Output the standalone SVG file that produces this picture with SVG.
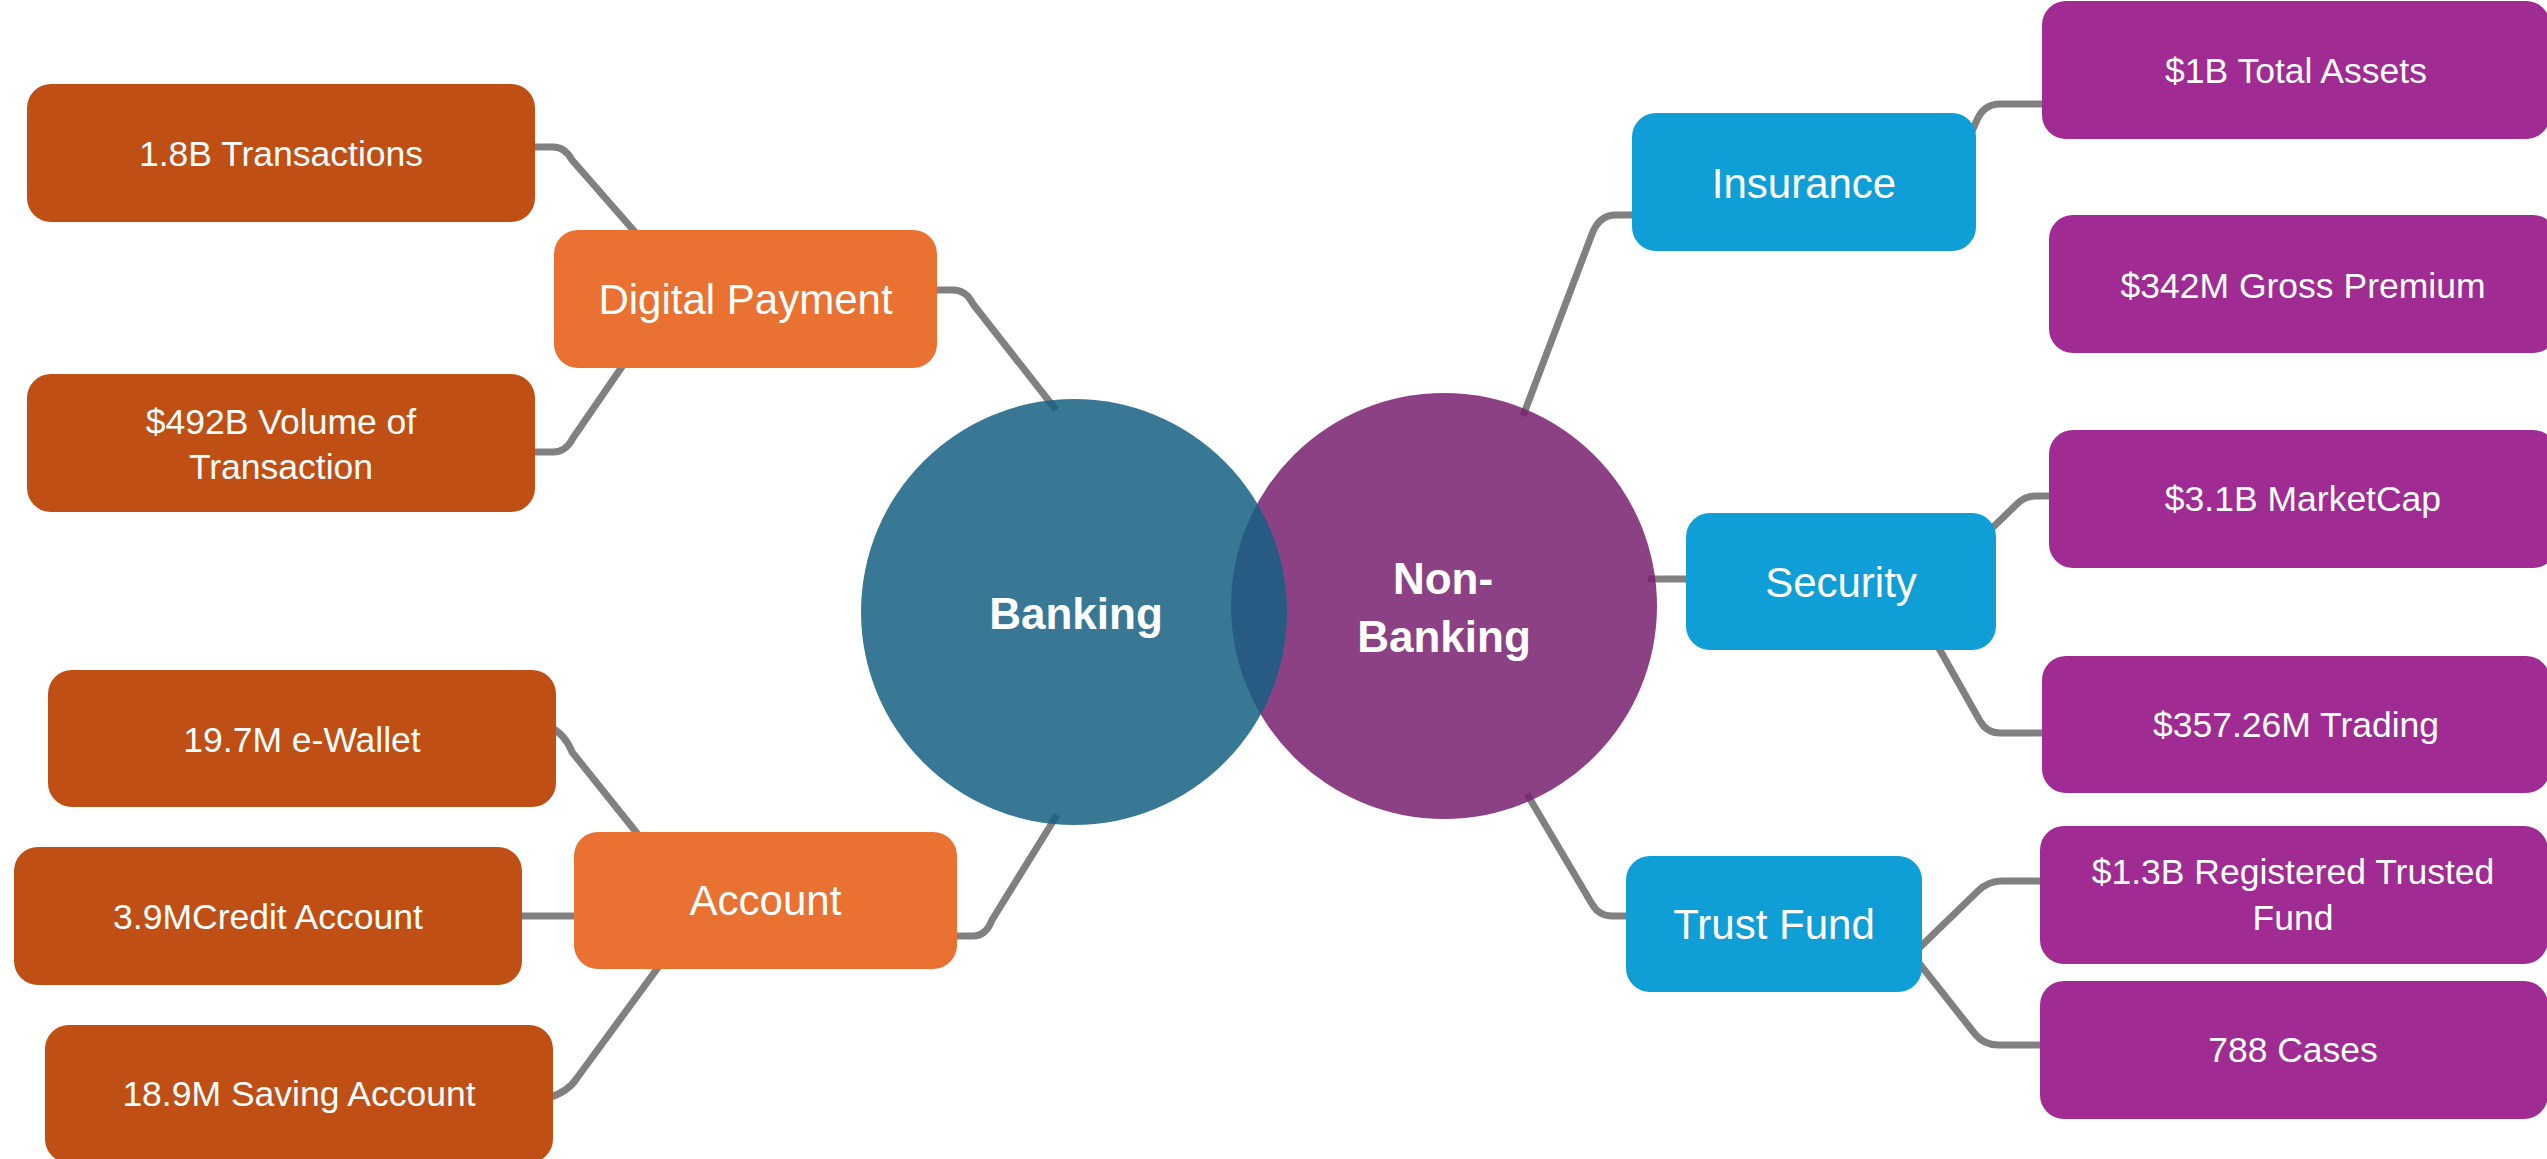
<svg xmlns="http://www.w3.org/2000/svg" width="2547" height="1159" viewBox="0 0 2547 1159">
<style>
.conn{fill:none;stroke:#808080;stroke-width:7;stroke-linejoin:round;stroke-linecap:butt}
.leafL{fill:#C04F15}
.mid{fill:#E97132}
.midB{fill:#0F9ED5}
.leafR{fill:#A02B93}
text{font-family:"Liberation Sans",Arial,sans-serif;fill:#FFFFFF;text-anchor:middle}
.t1{font-size:35.5px}
.t2{font-size:42px}
.t3{font-size:44px;font-weight:bold}
</style>
<rect width="2547" height="1159" fill="#FFFFFF"/>
<g id="connectors">
<path class="conn" d="M530 147 H553 Q565 147 572 160 L642 240"/>
<path class="conn" d="M930 290 H953 Q966 290 973 304 L1056 410"/>
<path class="conn" d="M530 452 H553 Q566 452 573 438 L628 358"/>
<path class="conn" d="M550 727 Q565 734 572 752 L644 842"/>
<path class="conn" d="M515 916 H580"/>
<path class="conn" d="M548 1098 Q568 1092 577 1078 L665 958"/>
<path class="conn" d="M950 936 H973 Q986 936 992 920 L1057 815"/>
<path class="conn" d="M1523 416 L1592 234 Q1599 215 1616 215 H1640"/>
<path class="conn" d="M1968 140 L1977 120 Q1984 104 2000 104 H2048"/>
<path class="conn" d="M1648 579 H1692"/>
<path class="conn" d="M1988 532 L2017 504 Q2025 496 2036 496 H2055"/>
<path class="conn" d="M1932 636 L1980 721 Q1987 733 2000 733 H2048"/>
<path class="conn" d="M1527 794 L1592 904 Q1599 916 1612 916 H1632"/>
<path class="conn" d="M1915 952 L1978 891 Q1988 881 2002 881 H2046"/>
<path class="conn" d="M1915 958 L1975 1034 Q1984 1045 1998 1045 H2046"/>
</g>
<g id="non-banking">
<circle cx="1444" cy="606" r="213" fill="#78206E" fill-opacity="0.85"/>
<text class="t3" x="1443" y="594">Non-</text>
<text class="t3" x="1444" y="652">Banking</text>
</g>
<g id="banking">
<circle cx="1074" cy="612" r="213" fill="#156082" fill-opacity="0.85"/>
<text class="t3" x="1076" y="629">Banking</text>
</g>
<g id="digital-payment">
<rect class="mid" x="554" y="230" width="383" height="138" rx="24"/>
<text class="t2" x="745.5" y="314">Digital Payment</text>
</g>
<g id="transactions">
<rect class="leafL" x="27" y="84" width="508" height="138" rx="24"/>
<text class="t1" x="281" y="166">1.8B Transactions</text>
</g>
<g id="volume">
<rect class="leafL" x="27" y="374" width="508" height="138" rx="24"/>
<text class="t1" x="281" y="433.5">$492B Volume of</text>
<text class="t1" x="281" y="479">Transaction</text>
</g>
<g id="account">
<rect class="mid" x="574" y="832" width="383" height="137" rx="24"/>
<text class="t2" x="765.5" y="915">Account</text>
</g>
<g id="e-wallet">
<rect class="leafL" x="48" y="670" width="508" height="137" rx="24"/>
<text class="t1" x="302" y="752">19.7M e-Wallet</text>
</g>
<g id="credit-account">
<rect class="leafL" x="14" y="847" width="508" height="138" rx="24"/>
<text class="t1" x="268" y="928.5">3.9MCredit Account</text>
</g>
<g id="saving-account">
<rect class="leafL" x="45" y="1025" width="508" height="138" rx="24"/>
<text class="t1" x="299" y="1106">18.9M Saving Account</text>
</g>
<g id="insurance">
<rect class="midB" x="1632" y="113" width="344" height="138" rx="24"/>
<text class="t2" x="1804" y="198">Insurance</text>
</g>
<g id="total-assets">
<rect class="leafR" x="2042" y="1" width="508" height="138" rx="24"/>
<text class="t1" x="2296" y="83">$1B Total Assets</text>
</g>
<g id="gross-premium">
<rect class="leafR" x="2049" y="215" width="508" height="138" rx="24"/>
<text class="t1" x="2303" y="297.5">$342M Gross Premium</text>
</g>
<g id="security">
<rect class="midB" x="1686" y="513" width="310" height="137" rx="24"/>
<text class="t2" x="1841" y="597">Security</text>
</g>
<g id="marketcap">
<rect class="leafR" x="2049" y="430" width="508" height="138" rx="24"/>
<text class="t1" x="2303" y="511">$3.1B MarketCap</text>
</g>
<g id="trading">
<rect class="leafR" x="2042" y="656" width="508" height="137" rx="24"/>
<text class="t1" x="2296" y="737">$357.26M Trading</text>
</g>
<g id="trust-fund">
<rect class="midB" x="1626" y="856" width="296" height="136" rx="24"/>
<text class="t2" x="1774" y="939">Trust Fund</text>
</g>
<g id="registered-fund">
<rect class="leafR" x="2040" y="826" width="508" height="138" rx="24"/>
<text class="t1" x="2293" y="884">$1.3B Registered Trusted</text>
<text class="t1" x="2293" y="930">Fund</text>
</g>
<g id="cases">
<rect class="leafR" x="2040" y="981" width="508" height="138" rx="24"/>
<text class="t1" x="2293" y="1062">788 Cases</text>
</g>
</svg>
